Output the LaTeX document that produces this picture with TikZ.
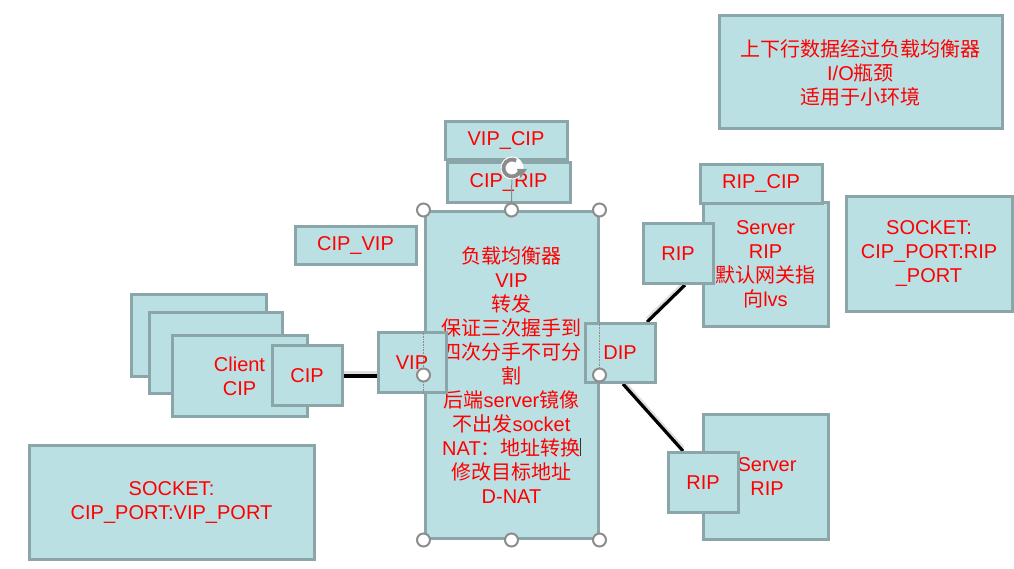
\documentclass[tikz,border=0pt]{standalone}
\usepackage{fontspec}
\setmainfont{Liberation Sans}
\newfontfamily\cjk{Noto Sans CJK SC}
\usetikzlibrary{arrows.meta}
\definecolor{boxfill}{RGB}{187,224,227}
\definecolor{boxline}{RGB}{138,166,168}
\definecolor{hgray}{RGB}{140,140,140}
\pgfdeclarelayer{bg}
\pgfsetlayers{bg,main}
\newcommand\zh[1]{{\cjk #1}}
\begin{document}
\begin{tikzpicture}[x=1pt,y=-1pt,
  box/.style={draw=boxline, fill=boxfill, line width=3pt, inner sep=0pt, align=center, text=red, font=\fontsize{20}{24}\selectfont},
  link/.style={draw=black, line width=3.2pt},
  shadowline/.style={draw=black!13, line width=3.5pt},
  handle/.style={circle, draw=hgray, fill=white, line width=2pt, minimum size=13pt, inner sep=0pt}]
\useasboundingbox (0,0) rectangle (1014,569);

% top-right note
\node[box, minimum width=283pt, minimum height=113pt] (note) at (860.5,72.5)
  {\zh{上下行数据经过负载均衡器}\\I/O\zh{瓶颈}\\\zh{适用于小环境}};

% labels above the load balancer
\node[box, minimum width=122pt, minimum height=38pt] (vipcip) at (506,141) {VIP\_CIP};
\node[box, minimum width=123pt, minimum height=40pt] (ciprip) at (508.5,182.5) {CIP\_RIP};

% load balancer
\node[box, minimum width=173pt, minimum height=327pt] (lb) at (511.5,375)
  {\zh{负载均衡器}\\VIP\\\zh{转发}\\\zh{保证三次握手到}\\\zh{四次分手不可分}\\\zh{割}\\\zh{后端}server\zh{镜像}\\\zh{不出发}socket\\NAT\zh{：地址转换}\\\zh{修改目标地址}\\D-NAT};

\node[box, minimum width=121pt, minimum height=38pt] (cipvip) at (355.5,245.5) {CIP\_VIP};

% clients
\node[box, minimum width=135pt, minimum height=82pt] (cl3) at (198.5,335) {};
\node[box, minimum width=133pt, minimum height=81pt] (cl2) at (215.5,352.5) {};
\node[box, minimum width=135pt, minimum height=81pt] (cl1) at (239.5,376) {Client\\CIP};
\node[box, minimum width=70pt, minimum height=60pt] (cip) at (307,375.5) {CIP};

\node[box, minimum width=68pt, minimum height=60pt] (vip) at (412,362.5) {VIP};
\node[box, minimum width=70pt, minimum height=59pt] (dip) at (620,353) {DIP};

% servers
\node[box, minimum width=125pt, minimum height=124pt] (srv1) at (765.5,264.5)
  {Server\\RIP\\\zh{默认网关指}\\\zh{向}lvs};
\node[box, minimum width=122pt, minimum height=39pt] (ripcip) at (761,184) {RIP\_CIP};
\node[box, minimum width=70pt, minimum height=60pt] (rip1) at (678,253.5) {RIP};

\node[box, minimum width=125pt, minimum height=125pt] (srv2) at (765.5,477) {\hspace*{3pt}Server\\\hspace*{3pt}RIP};
\node[box, minimum width=70pt, minimum height=60pt] (rip2) at (703,482.5) {RIP};

% sockets
\node[box, minimum width=166pt, minimum height=115pt] (sockr) at (929,254)
  {SOCKET:\\CIP\_PORT:RIP\\\_PORT};
\node[box, minimum width=285pt, minimum height=114pt] (sockl) at (171.5,502.5)
  {SOCKET:\\CIP\_PORT:VIP\_PORT};

% connectors (behind the boxes)
\begin{pgfonlayer}{bg}
\fill[white] (0,0) rectangle (1014,569);
\draw[shadowline] ([yshift=3pt]cip.east |- 0,376) -- ([yshift=3pt]vip.west |- 0,376);
\draw[shadowline] ([shift={(27pt,3pt)}]dip.north) -- ([shift={(7pt,3pt)}]rip1.south);
\draw[shadowline] ([shift={(3pt,3pt)}]dip.south) -- ([shift={(-20pt,3pt)}]rip2.north);
\draw[link] (cip.east |- 0,376) -- (vip.west |- 0,376);
\draw[link] ([xshift=27pt]dip.north) -- ([xshift=7pt]rip1.south);
\draw[link] ([xshift=3pt]dip.south) -- ([xshift=-20pt]rip2.north);
\end{pgfonlayer}

% selection outline pieces hidden behind VIP/DIP
\draw[hgray, line width=0.6pt, densely dotted] (lb.west |- vip.north) -- (lb.west |- vip.south);
\draw[hgray, line width=0.6pt, densely dotted] (lb.east |- dip.north) -- (lb.east |- dip.south);

% text cursor
\draw[black!80, line width=1pt] (580,438) -- (580,456);

% rotation handle
\coordinate (rot) at (512,168);
\draw[hgray, line width=1pt] ([yshift=10pt]rot) -- (lb.north);
\fill[white] (rot) circle[radius=11.5];
\draw[hgray, line width=3.8pt] (rot) ++(15:8.5) arc[start angle=15, end angle=300, radius=8.5];
\fill[hgray] ([shift={(5,1)}]rot) -- ([shift={(15,1)}]rot) -- ([shift={(8.5,10)}]rot) -- cycle;

% selection handles
\foreach \a in {north west,north,north east,west,east,south west,south,south east}
  \node[handle] at (lb.\a) {};
\end{tikzpicture}
\end{document}
